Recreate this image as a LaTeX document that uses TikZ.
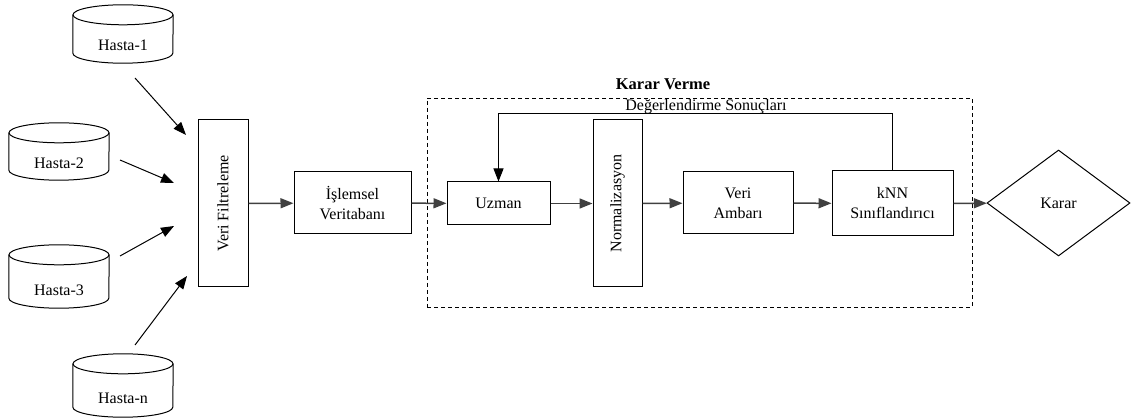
\documentclass[tikz,border=0pt]{standalone}
\usepackage{fontspec}
\setmainfont{Liberation Serif}
\usetikzlibrary{shapes.geometric,arrows.meta,calc}
% database drum: #1 name, #2 centre x, #3 centre y, #4 height
\newcommand\dbdrum[4]{%
  \node[minimum width=100, minimum height=#4] (#1) at (#2,#3) {};
  \draw[line width=1pt] ($(#1.north)+(0,10)$) ellipse [x radius=50pt, y radius=10pt];
  \draw[line width=1pt] ($(#1.north west)+(0,10)$) -- ($(#1.south west)+(0,-10)$)
    arc[start angle=180, end angle=360, x radius=50pt, y radius=10pt]
    -- ($(#1.north east)+(0,10)$);
}
\begin{document}
\begin{tikzpicture}[x=1pt,y=-1pt,
  every node/.style={font=\fontsize{16}{20}\selectfont, inner sep=0pt},
  box/.style={draw, line width=1pt, align=center},
  vbox/.style={box, minimum width=50, minimum height=167},
  link/.style={line width=1pt, -{Triangle[length=13pt,width=10pt]}},
  flow/.style={link, draw=black!75, line width=1.5pt}]
\useasboundingbox (0,0) rectangle (1142,419);

% patient records
\dbdrum{h1}{123}{34}{58}
\dbdrum{h2}{59}{151.5}{57}
\dbdrum{h3}{59}{276.5}{63}
\dbdrum{hn}{123}{385.5}{63}
\node (h1t) at (123,45) {Hasta-1};
\node (h2t) at (59,163) {Hasta-2};
\node (h3t) at (59,290) {Hasta-3};
\node (hnt) at (123,398) {Hasta-n};

% processing chain
\node[vbox] (vf) at (223,203.5) {\rotatebox{90}{Veri Filtreleme}};
\node[box, minimum width=117, minimum height=62] (isl) at (352.5,203) {İşlemsel\\Veritabanı};
\node[box, minimum width=103, minimum height=43] (uz) at (498.5,203.5) {Uzman};
\node[vbox, minimum width=49] (nrm) at (617.5,203.5) {\rotatebox{90}{Normalizasyon}};
\node[box, minimum width=110, minimum height=62] (va) at (738,203) {Veri\\Ambarı};
\node[box, minimum width=121, minimum height=65] (knn) at (892.5,203.5) {kNN\\Sınıflandırıcı};
\node[diamond, draw, line width=1pt, minimum width=143, minimum height=106, aspect=1.35] (kr) at (1058.5,203) {Karar};

% decision-making frame
\node[draw, dash pattern=on 4pt off 3pt, line width=0.9pt, minimum width=545, minimum height=209] (frame) at (699.5,202.5) {};
\node[font=\fontsize{16.5}{20}\selectfont\bfseries] (kvt) at (663,84) {Karar Verme};

% inputs into filtering
\coordinate (a1s) at (135,78);  \coordinate (a1e) at (186,135);
\coordinate (a2s) at (120,160); \coordinate (a2e) at (174,183);
\coordinate (a3s) at (120,256); \coordinate (a3e) at (174,226);
\coordinate (a4s) at (135,345); \coordinate (a4e) at (187,276);
\draw[link] (a1s) -- (a1e);
\draw[link] (a2s) -- (a2e);
\draw[link] (a3s) -- (a3e);
\draw[link] (a4s) -- (a4e);

% main flow
\draw[flow] (vf) -- (isl);
\draw[flow] (isl) -- (uz);
\draw[flow] (uz) -- (nrm);
\draw[flow] (nrm) -- (va);
\draw[flow] (va) -- (knn);
\draw[flow] (knn) -- (kr);

% feedback loop
\draw[link] (knn.north) |- (498.5,114) -- (uz.north);
\node (fb) at (706,106.5) {Değerlendirme Sonuçları};
\end{tikzpicture}
\end{document}
